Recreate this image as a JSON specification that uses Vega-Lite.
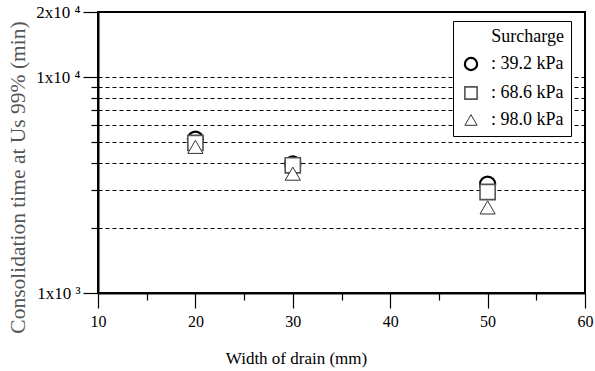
{
  "$schema": "https://vega.github.io/schema/vega-lite/v6.json",
  "width": 487,
  "height": 281,
  "autosize": {"type": "none"},
  "padding": {"left": 98, "top": 12, "right": 10, "bottom": 78},
  "background": "white",
  "config": {
    "font": "Liberation Serif, serif",
    "view": {"stroke": "black", "strokeWidth": 2},
    "legend": {"labelFont": "Liberation Serif, serif", "titleFont": "Liberation Serif, serif"},
    "axis": {"domainColor": "black", "domainWidth": 2, "tickColor": "black", "tickWidth": 1.2, "labelColor": "black", "labelFont": "Liberation Serif, serif", "titleFont": "Liberation Serif, serif", "titleFontWeight": "normal"}
  },
  "data": {
    "values": [
      {"width": 20, "time": 5150, "surcharge": "39.2"},
      {"width": 30, "time": 3960, "surcharge": "39.2"},
      {"width": 50, "time": 3190, "surcharge": "39.2"},
      {"width": 20, "time": 4950, "surcharge": "68.6"},
      {"width": 30, "time": 3900, "surcharge": "68.6"},
      {"width": 50, "time": 2935, "surcharge": "68.6"},
      {"width": 20, "time": 4750, "surcharge": "98.0"},
      {"width": 30, "time": 3570, "surcharge": "98.0"},
      {"width": 50, "time": 2490, "surcharge": "98.0"}
    ]
  },
  "mark": {"type": "point", "filled": false, "fill": "white", "fillOpacity": 1, "opacity": 1, "size": 230},
  "encoding": {
    "x": {
      "field": "width", "type": "quantitative",
      "scale": {"domain": [10, 60], "nice": false, "zero": false},
      "axis": {
        "title": "Width of drain (mm)", "titleFontSize": 17, "titleColor": "black", "titlePadding": 21, "titleX": 198,
        "values": [10, 15, 20, 25, 30, 35, 40, 45, 50, 55, 60],
        "labelExpr": "datum.value % 10 == 0 ? datum.label : ''",
        "labelFontSize": 16, "labelPadding": 5, "labelFlush": false,
        "tickSize": {"condition": {"test": "datum.value % 10 == 0", "value": 15}, "value": 7},
        "grid": false
      }
    },
    "y": {
      "field": "time", "type": "quantitative",
      "scale": {"type": "log", "domain": [1000, 20000], "nice": false},
      "axis": {
        "title": "Consolidation time at Us 99% (min)", "titleFontSize": 21.5, "titleColor": "#555555", "titlePadding": 6, "titleY": 165,
        "values": [1000, 2000, 3000, 4000, 5000, 6000, 7000, 8000, 9000, 10000, 20000],
        "labelExpr": "datum.value == 1000 ? '1x10 ³' : datum.value == 10000 ? '1x10 ⁴' : datum.value == 20000 ? '2x10 ⁴' : ''",
        "labelFontSize": 17, "labelPadding": 3, "labelFlush": false,
        "tickSize": {"condition": {"test": "datum.value == 1000 || datum.value == 10000 || datum.value == 20000", "value": 15}, "value": 7},
        "grid": true, "gridColor": "black", "gridWidth": 1, "gridDash": [4, 3],
        "gridOpacity": {"condition": {"test": "datum.value == 1000 || datum.value == 20000", "value": 0}, "value": 1}
      }
    },
    "shape": {
      "field": "surcharge", "type": "nominal",
      "scale": {"domain": ["39.2", "68.6", "98.0"], "range": ["circle", "square", "triangle-up"]},
      "legend": {
        "title": "Surcharge", "orient": "none", "legendX": 355, "legendY": 9,
        "titleFontSize": 18, "titleFontWeight": "normal", "titleColor": "black", "titleAlign": "right", "titleAnchor": "end", "titlePadding": 9,
        "labelFontSize": 18, "labelColor": "black", "labelExpr": "': ' + datum.label + ' kPa'",
        "fillColor": "white", "strokeColor": "black", "padding": 7, "rowPadding": 8, "symbolOffset": 2,
        "symbolSize": 150, "symbolFillColor": "white", "symbolStrokeColor": "black", "symbolStrokeWidth": 1.2, "labelOffset": 11
      }
    },
    "stroke": {
      "field": "surcharge", "type": "nominal",
      "scale": {"domain": ["39.2", "68.6", "98.0"], "range": ["#000000", "#555555", "#333333"]},
      "legend": null
    },
    "strokeWidth": {
      "field": "surcharge", "type": "nominal",
      "scale": {"domain": ["39.2", "68.6", "98.0"], "range": [2.2, 1, 1]},
      "legend": null
    },
    "order": {"field": "surcharge", "type": "nominal"}
  }
}
